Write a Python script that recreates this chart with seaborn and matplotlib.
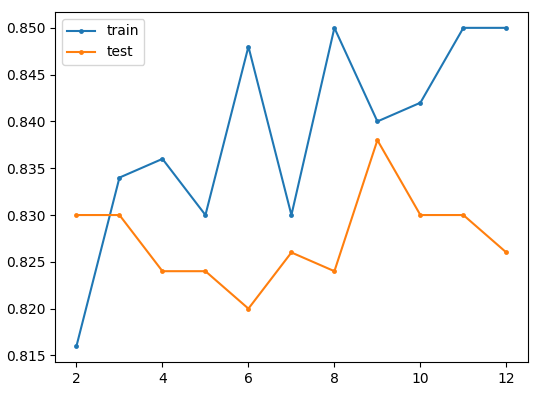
import matplotlib
matplotlib.use("Agg")
import matplotlib.pyplot as plt
import seaborn as sns
import pandas as pd

depth = [2, 3, 4, 5, 6, 7, 8, 9, 10, 11, 12]
train = [0.816, 0.834, 0.836, 0.830, 0.848, 0.830, 0.850, 0.840, 0.842, 0.850, 0.850]
test = [0.830, 0.830, 0.824, 0.824, 0.820, 0.826, 0.824, 0.838, 0.830, 0.830, 0.826]

df = pd.DataFrame({"x": depth * 2, "y": train + test,
                   "set": ["train"] * len(depth) + ["test"] * len(depth)})

fig, ax = plt.subplots(figsize=(5.47, 3.98), dpi=100)
sns.lineplot(data=df, x="x", y="y", hue="set", marker=".", markersize=7,
             markeredgewidth=0, palette=["#1f77b4", "#ff7f0e"], ax=ax,
             linewidth=1.5)
ax.set_xlabel("")
ax.set_ylabel("")
ax.set_xticks([2, 4, 6, 8, 10, 12])
ax.set_yticks([0.815, 0.820, 0.825, 0.830, 0.835, 0.840, 0.845, 0.850])
ax.yaxis.set_major_formatter(matplotlib.ticker.FormatStrFormatter("%.3f"))
ax.legend(title=None, loc="upper left")
fig.subplots_adjust(left=0.1005, right=0.965, top=0.970, bottom=0.0905)
fig.savefig("out.png", dpi=100)
